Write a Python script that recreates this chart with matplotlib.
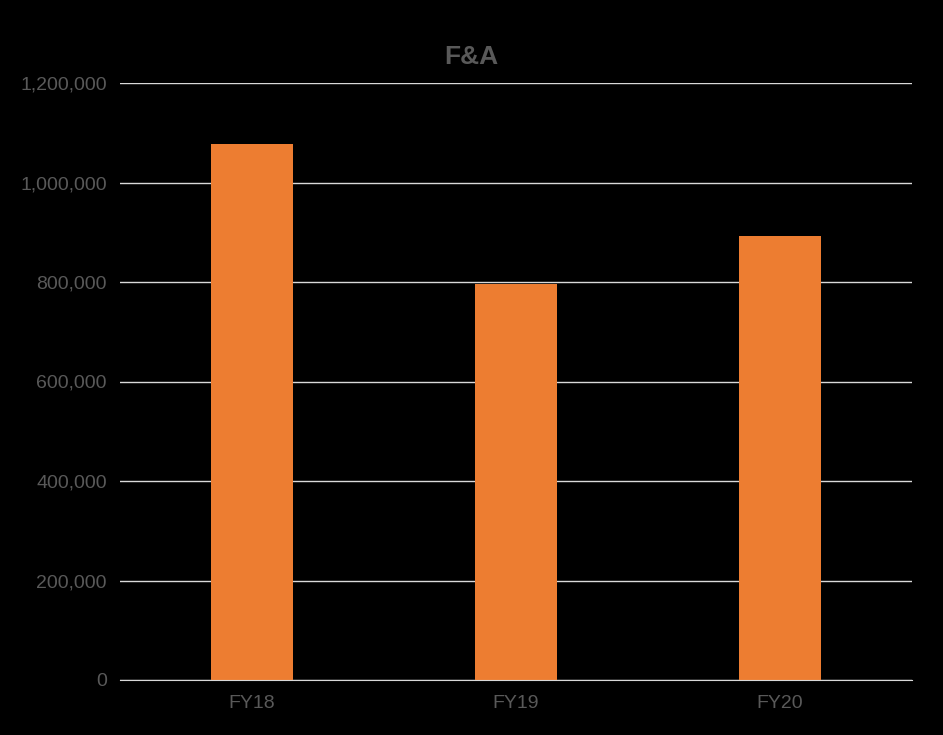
import matplotlib
matplotlib.use("Agg")
import matplotlib.pyplot as plt
from matplotlib.ticker import FuncFormatter

categories = ["FY18", "FY19", "FY20"]
values = [1077000, 796000, 892000]
title = "F&A"

plt.rcParams['font.family'] = ['Liberation Sans', 'DejaVu Sans']

fig = plt.figure(figsize=(9.43, 7.35), dpi=100, facecolor="black")
ax = fig.add_axes([120/943, 1-680/735, (912-120)/943, (680-83)/735])
ax.set_facecolor("black")

x = range(len(categories))
ax.bar(x, values, width=0.31, color="#ED7D31", zorder=3)
ax.set_xlim(-0.5, 2.5)
ax.set_ylim(0, 1200000)
ax.set_yticks(range(0, 1200001, 200000))
ax.yaxis.set_major_formatter(FuncFormatter(lambda v, p: f"{int(v):,}"))
ax.set_xticks(list(x))
ax.set_xticklabels(categories)
ax.grid(axis="y", color="#D9D9D9", linewidth=1, zorder=0)
for s in ["top", "right", "left"]:
    ax.spines[s].set_visible(False)
ax.spines["bottom"].set_color("#D9D9D9")
ax.spines["bottom"].set_zorder(4)
ax.tick_params(axis="both", length=0, colors="#595959", labelsize=14)
ax.tick_params(axis="y", pad=9.5)
ax.tick_params(axis="x", pad=11)
fig.text(471/943, 1-57/735, title, ha="center", va="center", fontsize=19,
         fontweight="bold", color="#595959")

fig.savefig("out.png", dpi=100, facecolor="black")
